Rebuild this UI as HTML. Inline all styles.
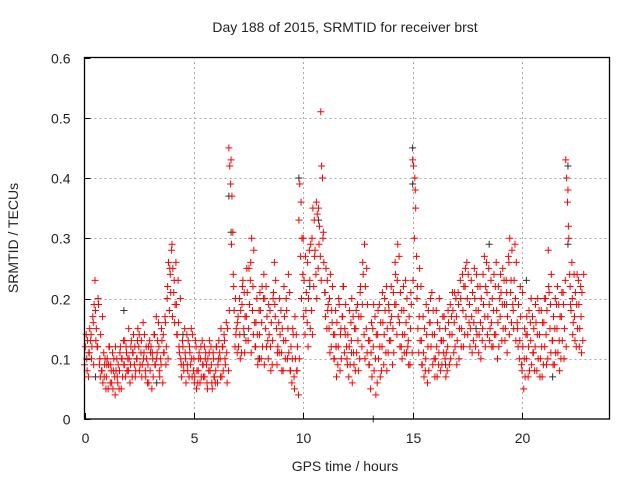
<!DOCTYPE html>
<html><head><meta charset="utf-8"><style>
body{margin:0;background:#fff;width:640px;height:480px;overflow:hidden}
svg{font-family:"Liberation Sans",sans-serif;font-size:14px;fill:#222}
</style></head><body>
<svg id="chart" width="640" height="480">
<text x="345" y="32" text-anchor="middle">Day 188 of 2015, SRMTID for receiver brst</text>
<text x="345" y="471" text-anchor="middle">GPS time / hours</text>
<text transform="translate(18,238) rotate(-90)" text-anchor="middle">SRMTID / TECUs</text>
<g id="grid"></g><g id="ticks"></g><g id="marks"></g>
<rect x="84.5" y="57.5" width="525" height="361.5" fill="none" stroke="#000" stroke-width="1.3"/>
</svg>
<script>
const xTicks=[0,5,10,15,20];
const yTicks=[0,0.1,0.2,0.3,0.4,0.5,0.6];
const yTickLabels=["0","0.1","0.2","0.3","0.4","0.5","0.6"];
const redT=[0.0,0.2,0.4,0.6,0.8,1.0,1.2,1.4,1.6,1.8,2.0,2.2,2.4,2.6,2.8,3.0,3.2,3.4,3.6,3.8,4.0,4.2,4.4,4.6,4.8,5.0,5.2,5.4,5.6,5.8,6.0,6.2,6.4,6.6,6.8,7.0,7.2,7.4,7.6,7.8,8.0,8.2,8.4,8.6,8.8,9.0,9.2,9.4,9.6,9.8,10.0,10.2,10.4,10.6,10.8,11.0,11.2,11.4,11.6,11.8,12.0,12.2,12.4,12.6,12.8,13.0,13.2,13.4,13.6,13.8,14.0,14.2,14.4,14.6,14.8,15.0,15.2,15.4,15.6,15.8,16.0,16.2,16.4,16.6,16.8,17.0,17.2,17.4,17.6,17.8,18.0,18.2,18.4,18.6,18.8,19.0,19.2,19.4,19.6,19.8,20.0,20.2,20.4,20.6,20.8,21.0,21.2,21.4,21.6,21.8,22.0,22.2,22.4,22.6];
const redV=[[0.09,0.12,0.14,0.08],[0.11,0.15,0.13,0.10],[0.16,0.19,0.23,0.13],[0.12,0.19,0.09,0.07],[0.08,0.06,0.11,0.09],[0.07,0.10,0.05,0.12],[0.09,0.06,0.11,0.08],[0.04,0.08,0.10,0.06],[0.08,0.12,0.05,0.10],[0.09,0.13,0.07,0.11],[0.08,0.10,0.06,0.12],[0.11,0.14,0.09,0.07],[0.10,0.15,0.12,0.08],[0.13,0.09,0.16,0.11],[0.07,0.10,0.06,0.12],[0.08,0.12,0.05,0.10],[0.14,0.09,0.17,0.11],[0.12,0.07,0.10,0.15],[0.14,0.11,0.17,0.09],[0.22,0.26,0.18,0.24],[0.29,0.25,0.21,0.16],[0.19,0.14,0.23,0.12],[0.10,0.07,0.13,0.09],[0.11,0.06,0.14,0.08],[0.12,0.09,0.15,0.07],[0.10,0.07,0.13,0.05],[0.08,0.11,0.06,0.12],[0.09,0.07,0.12,0.10],[0.06,0.10,0.08,0.13],[0.09,0.05,0.11,0.07],[0.08,0.12,0.06,0.10],[0.10,0.15,0.07,0.12],[0.13,0.09,0.16,0.06],[0.45,0.42,0.39,0.29],[0.24,0.18,0.12,0.14],[0.16,0.12,0.20,0.10],[0.19,0.23,0.15,0.11],[0.17,0.21,0.13,0.25],[0.26,0.30,0.18,0.14],[0.12,0.16,0.20,0.09],[0.14,0.18,0.10,0.22],[0.24,0.20,0.15,0.12],[0.10,0.14,0.18,0.08],[0.13,0.21,0.26,0.17],[0.09,0.12,0.16,0.20],[0.11,0.15,0.08,0.22],[0.13,0.18,0.10,0.24],[0.08,0.12,0.06,0.15],[0.05,0.10,0.14,0.08],[0.33,0.39,0.27,0.20],[0.30,0.23,0.14,0.18],[0.26,0.20,0.28,0.15],[0.30,0.35,0.22,0.27],[0.36,0.34,0.25,0.29],[0.51,0.42,0.40,0.31],[0.21,0.25,0.15,0.18],[0.20,0.24,0.12,0.16],[0.10,0.14,0.18,0.07],[0.12,0.19,0.08,0.15],[0.17,0.22,0.11,0.14],[0.10,0.14,0.07,0.18],[0.13,0.06,0.17,0.09],[0.15,0.11,0.19,0.08],[0.21,0.17,0.12,0.26],[0.29,0.22,0.15,0.11],[0.09,0.13,0.05,0.16],[0.12,0.08,0.17,0.04],[0.14,0.10,0.19,0.07],[0.12,0.16,0.09,0.20],[0.22,0.15,0.11,0.18],[0.13,0.17,0.09,0.21],[0.26,0.19,0.14,0.29],[0.16,0.21,0.12,0.10],[0.18,0.14,0.23,0.11],[0.13,0.17,0.09,0.21],[0.43,0.42,0.30,0.38],[0.20,0.15,0.11,0.25],[0.13,0.09,0.17,0.07],[0.10,0.14,0.06,0.18],[0.16,0.12,0.21,0.09],[0.14,0.10,0.18,0.07],[0.11,0.15,0.08,0.13],[0.13,0.17,0.10,0.07],[0.12,0.16,0.09,0.19],[0.14,0.18,0.11,0.21],[0.17,0.13,0.21,0.10],[0.20,0.15,0.24,0.12],[0.22,0.17,0.26,0.14],[0.19,0.15,0.23,0.11],[0.16,0.20,0.12,0.24],[0.18,0.14,0.22,0.10],[0.15,0.19,0.27,0.12],[0.21,0.17,0.25,0.13],[0.16,0.20,0.12,0.24],[0.14,0.18,0.10,0.22],[0.17,0.21,0.13,0.25],[0.19,0.15,0.23,0.11],[0.26,0.30,0.21,0.16],[0.18,0.23,0.29,0.13],[0.15,0.19,0.10,0.22],[0.08,0.12,0.05,0.15],[0.10,0.14,0.07,0.18],[0.13,0.09,0.17,0.11],[0.12,0.16,0.08,0.20],[0.14,0.10,0.18,0.07],[0.16,0.12,0.20,0.09],[0.28,0.21,0.15,0.11],[0.13,0.17,0.09,0.20],[0.15,0.11,0.19,0.08],[0.17,0.13,0.21,0.10],[0.43,0.40,0.36,0.32],[0.22,0.18,0.26,0.14],[0.17,0.21,0.12,0.24],[0.19,0.15,0.22,0.11]];
const redT2=[0.1,0.3,0.5,0.7,0.9,1.1,1.3,1.5,1.7,1.9,2.1,2.3,2.5,2.7,2.9,3.1,3.3,3.5,3.7,3.9,4.1,4.3,4.5,4.7,4.9,5.1,5.3,5.5,5.7,5.9,6.1,6.3,6.5,6.7,6.9,7.1,7.3,7.5,7.7,7.9,8.1,8.3,8.5,8.7,8.9,9.1,9.3,9.5,9.7,9.9,10.1,10.3,10.5,10.7,10.9,11.1,11.3,11.5,11.7,11.9,12.1,12.3,12.5,12.7,12.9,13.1,13.3,13.5,13.7,13.9,14.1,14.3,14.5,14.7,14.9,15.1,15.3,15.5,15.7,15.9,16.1,16.3,16.5,16.7,16.9,17.1,17.3,17.5,17.7,17.9,18.1,18.3,18.5,18.7,18.9,19.1,19.3,19.5,19.7,19.9,20.1,20.3,20.5,20.7,20.9,21.1,21.3,21.5,21.7,21.9,22.1,22.3,22.5,22.7];
const redV2=[[0.10,0.13,0.07,0.11],[0.14,0.12,0.17,0.09],[0.18,0.15,0.12,0.20],[0.10,0.14,0.08,0.17],[0.07,0.10,0.05,0.09],[0.09,0.12,0.06,0.08],[0.05,0.10,0.07,0.12],[0.07,0.09,0.05,0.11],[0.10,0.07,0.13,0.09],[0.12,0.08,0.10,0.15],[0.09,0.13,0.07,0.11],[0.12,0.08,0.10,0.13],[0.14,0.09,0.11,0.07],[0.10,0.14,0.08,0.12],[0.09,0.06,0.13,0.11],[0.11,0.07,0.14,0.09],[0.10,0.13,0.16,0.08],[0.09,0.13,0.06,0.11],[0.16,0.12,0.20,0.10],[0.25,0.21,0.28,0.17],[0.23,0.19,0.26,0.14],[0.16,0.11,0.20,0.09],[0.12,0.08,0.15,0.10],[0.09,0.13,0.07,0.11],[0.10,0.14,0.08,0.06],[0.12,0.08,0.06,0.10],[0.10,0.07,0.13,0.09],[0.07,0.11,0.09,0.05],[0.11,0.08,0.12,0.06],[0.10,0.07,0.06,0.12],[0.09,0.13,0.11,0.07],[0.12,0.08,0.14,0.10],[0.11,0.15,0.08,0.18],[0.43,0.37,0.31,0.22],[0.20,0.15,0.11,0.17],[0.14,0.18,0.11,0.22],[0.21,0.17,0.13,0.25],[0.15,0.19,0.23,0.11],[0.22,0.28,0.16,0.12],[0.14,0.10,0.18,0.21],[0.16,0.12,0.20,0.09],[0.22,0.17,0.13,0.19],[0.12,0.16,0.09,0.20],[0.19,0.23,0.15,0.11],[0.11,0.14,0.18,0.08],[0.13,0.17,0.10,0.20],[0.15,0.11,0.21,0.08],[0.10,0.14,0.07,0.17],[0.08,0.12,0.04,0.10],[0.36,0.30,0.24,0.17],[0.27,0.21,0.16,0.12],[0.23,0.29,0.18,0.14],[0.33,0.28,0.24,0.20],[0.35,0.32,0.27,0.23],[0.30,0.26,0.21,0.17],[0.23,0.19,0.15,0.11],[0.18,0.22,0.14,0.10],[0.12,0.16,0.09,0.20],[0.14,0.10,0.17,0.22],[0.15,0.19,0.12,0.09],[0.12,0.09,0.16,0.20],[0.11,0.15,0.08,0.18],[0.13,0.17,0.10,0.22],[0.19,0.24,0.14,0.10],[0.25,0.19,0.13,0.09],[0.11,0.07,0.15,0.19],[0.10,0.14,0.06,0.18],[0.12,0.16,0.08,0.21],[0.14,0.18,0.11,0.08],[0.19,0.13,0.16,0.22],[0.15,0.11,0.19,0.24],[0.23,0.17,0.27,0.12],[0.18,0.14,0.22,0.11],[0.16,0.20,0.12,0.09],[0.15,0.19,0.11,0.23],[0.40,0.35,0.27,0.22],[0.17,0.13,0.22,0.09],[0.11,0.15,0.08,0.19],[0.12,0.08,0.16,0.20],[0.14,0.18,0.10,0.07],[0.12,0.16,0.09,0.20],[0.13,0.09,0.17,0.11],[0.15,0.11,0.08,0.18],[0.14,0.10,0.17,0.21],[0.16,0.12,0.20,0.09],[0.19,0.15,0.23,0.12],[0.18,0.22,0.14,0.25],[0.20,0.24,0.16,0.12],[0.17,0.21,0.13,0.25],[0.18,0.14,0.22,0.11],[0.16,0.20,0.13,0.24],[0.17,0.22,0.26,0.14],[0.19,0.15,0.23,0.12],[0.18,0.14,0.22,0.26],[0.16,0.12,0.20,0.24],[0.19,0.15,0.23,0.13],[0.21,0.17,0.27,0.14],[0.23,0.28,0.19,0.15],[0.20,0.26,0.16,0.12],[0.13,0.17,0.09,0.21],[0.10,0.07,0.14,0.17],[0.12,0.08,0.16,0.20],[0.11,0.15,0.08,0.19],[0.14,0.10,0.18,0.07],[0.12,0.16,0.09,0.20],[0.14,0.18,0.10,0.22],[0.19,0.24,0.13,0.09],[0.15,0.11,0.19,0.22],[0.13,0.17,0.10,0.21],[0.19,0.15,0.23,0.12],[0.38,0.30,0.24,0.19],[0.20,0.16,0.24,0.13],[0.19,0.15,0.23,0.12],[0.17,0.21,0.13,0.24]];
const blackT=[0.5,1.8,2.0,3.3,4.5,6.6,6.7,7.3,8.0,9.8,10.3,10.7,11.5,12.2,13.2,15.0,15.0,16.5,17.9,18.5,19.3,20.2,21.4,22.1,22.1];
const blackV=[0.07,0.18,0.08,0.06,0.14,0.37,0.31,0.14,0.10,0.40,0.22,0.33,0.12,0.11,0.0,0.45,0.39,0.09,0.15,0.29,0.19,0.23,0.07,0.42,0.29];
const sampleStep=0.04; // samples within a row are ~2.4 minutes apart
const X0=84.5,X1=609.5,Y0=419,Y1=57.5,XMAX=24,YMAX=0.6;
const sx=t=>X0+(X1-X0)*t/XMAX, sy=v=>Y0-(Y0-Y1)*v/YMAX;
const NS="http://www.w3.org/2000/svg";
function mk(tag,attrs,parent){const e=document.createElementNS(NS,tag);for(const k in attrs)e.setAttribute(k,attrs[k]);parent.appendChild(e);return e;}
const grid=document.getElementById('grid'),ticks=document.getElementById('ticks'),marks=document.getElementById('marks');
yTicks.forEach((v,i)=>{
  const y=Math.round(sy(v))+0.5;
  if(v>0&&v<YMAX){const g=mk('line',{x1:X0,x2:X1,y1:y,y2:y,stroke:'#aaa','stroke-dasharray':'2,3'},grid);
  
  }
  mk('line',{x1:X0,x2:X0+6,y1:y,y2:y,stroke:'#000'},ticks);
  const t=mk('text',{x:X0-14,y:y+5,'text-anchor':'end'},ticks);t.textContent=yTickLabels[i];
  
  
});
xTicks.forEach(v=>{
  const x=Math.round(sx(v))+0.5;
  if(v>0){const g=mk('line',{x1:x,x2:x,y1:Y0,y2:Y1,stroke:'#aaa','stroke-dasharray':'2,3'},grid);
  
  }
  mk('line',{x1:x,x2:x,y1:Y0,y2:Y0-6,stroke:'#000'},ticks);
  const t=mk('text',{x:x,y:Y0+24,'text-anchor':'middle'},ticks);t.textContent=String(v);
  
  
});
function plus(x,y,color,name){
  const p=mk('path',{d:`M${x-3.5},${y}h7M${x},${y-3.5}v7`,stroke:color,'stroke-width':1,fill:'none'},marks);
  
  
}
blackT.forEach((t,i)=>plus(sx(t),sy(blackV[i]),'#333','black-point'));
redT.forEach((t,i)=>redV[i].forEach((v,k)=>plus(sx(t+k*sampleStep),sy(v),'#f00','red-point')));
redT2.forEach((t,i)=>redV2[i].forEach((v,k)=>plus(sx(t+k*sampleStep),sy(v),'#f00','red-point')));
</script>
</body></html>
